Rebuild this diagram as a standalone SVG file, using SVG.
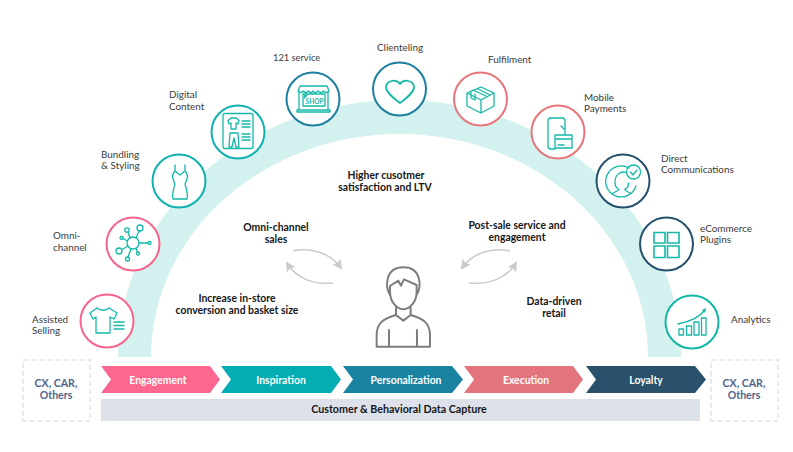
<svg xmlns="http://www.w3.org/2000/svg" width="793" height="452" viewBox="0 0 793 452">
<style>
text{font-family:"Lato","Open Sans","Liberation Sans",sans-serif}
.l{font-size:9.900px;fill:#3a3a3a}
.b{font-size:10.400px;font-weight:700;fill:#161616;text-anchor:middle}
.c{font-size:10.400px;font-weight:700;fill:#fff;text-anchor:middle}
.o{font-size:10.600px;font-weight:700;fill:#51658a;text-anchor:middle}
.r{fill:#fff;stroke-width:2}
.i{fill:none;stroke:#14b8a8;stroke-width:1.300;stroke-linejoin:round;stroke-linecap:round}
.a{fill:none;stroke:#c9cccc;stroke-width:1.500}
.p{fill:none;stroke:#7d7d7d;stroke-width:6;stroke-linejoin:round;stroke-linecap:round}
.d{fill:#fff;stroke:#dfe4ec;stroke-width:1.600;stroke-dasharray:5 3}
</style>
<defs>
<marker id="ah" viewBox="0 0 10 10" refX="8" refY="5" markerWidth="10" markerHeight="10" orient="auto" markerUnits="userSpaceOnUse"><path d="M0 0L10 5L0 10L2 5Z" fill="#c9cccc"/></marker>
</defs>
<rect width="793" height="452" fill="#fff"/>
<path id="band" d="M118 357A281.500 257 0 0 1 681 357H648A248.500 223 0 0 0 151 357Z" fill="#d3f1ee"/>
<g id="connectors">
<path class="a" d="M293 251C313 247 331 254 341 268" marker-end="url(#ah)"/>
<path class="a" d="M333 283C313 285 296 278 287 263" marker-end="url(#ah)"/>
<path class="a" d="M510 251C490 247 472 254 462 268" marker-end="url(#ah)"/>
<path class="a" d="M469 283C489 285 507 278 516 263" marker-end="url(#ah)"/>
</g>
<g id="assisted"><circle class="r" cx="107" cy="321" r="26.500" stroke="#f7648b"/>
<path class="i" d="M97 308L90 313L93 319L96 317V333H110V317L114 319L117 313L109 308C106 311 100 311 97 308Z"/><path class="i" d="M114 322H124M114 325.500H124M114 329H124"/>
<text class="l" x="32" y="323">Assisted</text><text class="l" x="32" y="334">Selling</text></g>
<g id="omni"><circle class="r" cx="133" cy="244" r="26.500" stroke="#f7648b"/>
<g class="i"><circle cx="133" cy="243" r="6"/><circle cx="140" cy="228" r="3"/><circle cx="127" cy="230" r="2.200"/><circle cx="121.500" cy="238" r="1.500"/><circle cx="119" cy="251" r="3"/><circle cx="127.500" cy="259" r="2"/><circle cx="138" cy="253.500" r="1.500"/><circle cx="149.500" cy="243" r="1.500"/><path d="M136 238L139 231M130 238L128 232M127.500 241L123 238.500M128 246L122 249.500M131 249L128 257M136 248L137.500 252M139 243H148"/></g>
<text class="l" x="53" y="239">Omni-</text><text class="l" x="53" y="251">channel</text></g>
<g id="bundling"><circle class="r" cx="179" cy="181" r="26.500" stroke="#0fb1ad"/>
<path class="i" d="M175 165V171C173 173 172 176 173 179L175 184C173 190 172 195 173 199H187C188 195 187 190 185 184L187 179C188 176 187 173 185 171V165M175 171L180 175L185 171"/>
<text class="l" x="101" y="158">Bundling</text><text class="l" x="101" y="169">&amp; Styling</text></g>
<g id="digital"><circle class="r" cx="238" cy="132" r="26.500" stroke="#0fb1ad"/>
<rect class="i" x="223" y="113.500" width="30" height="35" rx="2"/>
<path class="i" d="M231 118L228 120.500L229 124L231 123V129H236V123L238 124L239 120.500L236 118Z"/><path class="i" d="M242 121H250M242 124H250M242 127H250M242 134H250M242 137H250M242 140H250M230 133H238L239 147H236L234 138L232 147H229Z"/>
<text class="l" x="169" y="98">Digital</text><text class="l" x="169" y="110">Content</text></g>
<g id="service"><circle class="r" cx="313" cy="99" r="26.500" stroke="#1b7fa0"/>
<path class="i" d="M298 91L300 86H327L329 91C327 93 325 93 323.500 91C322 93 320 93 318 91C316 93 314 93 313 91C312 93 310 93 308.500 91C307 93 305 93 303.500 91C302 93 300 93 298 91ZM299 92V110H328V92M297 110H330V112H297ZM303 94H325V106H303Z"/>
<path d="M304 95H308L304 99Z" fill="#14b8a8"/>
<text x="314.500" y="103.500" font-size="6.500" font-weight="700" fill="#14b8a8" text-anchor="middle">SHOP</text>
<text class="l" x="273" y="61" font-size="9.300" style="font-size:9.300px">121 service</text></g>
<g id="clienteling"><circle class="r" cx="399.500" cy="89" r="26.500" stroke="#1b7fa0"/>
<path d="M400 103C392 97 386 92 386 87C386 81 396 78 400 84C404 78 414 81 414 87C414 92 408 97 400 103Z" fill="none" stroke="#14b8a8" stroke-width="1.800" stroke-linejoin="round"/>
<text class="l" x="377" y="51">Clienteling</text></g>
<g id="fulfilment"><circle class="r" cx="480.500" cy="99" r="26.500" stroke="#e7757b"/>
<path class="i" d="M467 93L481 87L494 93V106L481 113L467 106ZM467 93L481 100L494 93M481 100V113M473 90L486 96M477 88.500L489 94.500M471 91V98L475 100V94"/>
<text class="l" x="488" y="63">Fulfilment</text></g>
<g id="mobile"><circle class="r" cx="558" cy="132" r="26.500" stroke="#e7757b"/>
<path class="i" d="M565 134V121C565 119 564 118 562 118H551C549 118 548 119 548 121V146C548 148 549 149 551 149H555M561 126L564 129M555 135H572V148H555ZM555 139H572M558 145H564"/>
<text class="l" x="584" y="100.500">Mobile</text><text class="l" x="584" y="111.500">Payments</text></g>
<g id="direct"><circle class="r" cx="623" cy="181" r="26.500" stroke="#25506d"/>
<g class="i"><path d="M629 168A15.500 15.500 0 1 0 636 186"/><path d="M626.500 172.500C620 170.500 615 175 615 182C615 185 616 188 618.500 189V190L612.500 193.500M628.500 183C628.500 186 627 188.500 625 189V190L630.500 193.500"/><circle cx="633.500" cy="172" r="7"/><path d="M630.500 172L633 175L637 170"/></g>
<text class="l" x="661" y="161.500">Direct</text><text class="l" x="661" y="172.500">Communications</text></g>
<g id="ecommerce"><circle class="r" cx="666.500" cy="244" r="26.500" stroke="#25506d"/>
<path d="M654 232.500H665V243H654ZM667.500 232.500H679V243H667.500ZM654 246H665V257.500H654ZM667.500 246H679V257.500H667.500Z" fill="none" stroke="#14b8a8" stroke-width="1.600"/>
<text class="l" x="700" y="231.500">eCommerce</text><text class="l" x="700" y="242.500">Plugins</text></g>
<g id="analytics"><circle class="r" cx="692" cy="322" r="26.500" stroke="#10b8a4"/>
<path class="i" d="M679 329H683.500V335H679ZM686.500 326H691.500V335H686.500ZM694 322H699V335H694ZM701.500 318H706V335H701.500ZM678 324C688 322 699 318 705 310"/><path d="M706 308L705 313L702 310Z" fill="#14b8a8"/>
<text class="l" x="731" y="323">Analytics</text></g>
<g id="user" transform="translate(270 230) scale(.3333)"><path class="p" d="M360 195C345 170 345 112 400 112C455 112 455 170 440 195M360 168V185C360 215 380 238 400 238C420 238 440 215 440 185V165M360 168L385 152L393 167L402 148L440 165M378 232V255L400 272L422 255V232M378 255C340 265 320 280 320 315V350H480V315C480 280 460 265 422 255M357 300V350M441 300V350"/></g>
<g id="engagement"><path d="M101 366H210L220 379.500L210 393H101L111 379.500Z" fill="#fd668f"/><text class="c" x="158" y="383.500">Engagement</text></g>
<g id="inspiration"><path d="M221 366H331L341 379.500L331 393H221L231 379.500Z" fill="#04adb1"/><text class="c" x="281" y="383.500">Inspiration</text></g>
<g id="personalization"><path d="M343 366H452L463 379.500L452 393H343L353 379.500Z" fill="#1a83a2"/><text class="c" x="406" y="383.500">Personalization</text></g>
<g id="execution"><path d="M464 366H573L583 379.500L573 393H464L474 379.500Z" fill="#e4747c"/><text class="c" x="526" y="383.500">Execution</text></g>
<g id="loyalty"><path d="M586 366H695L706 379.500L695 393H586L596 379.500Z" fill="#2a516b"/><text class="c" x="646" y="383.500">Loyalty</text></g>
<g id="capture"><rect x="101" y="399" width="599" height="22" fill="#dde2ea"/><text class="b" x="399" y="412.500" style="font-size:10.700px">Customer &amp; Behavioral Data Capture</text></g>
<g id="others-left"><rect class="d" x="23" y="360" width="67" height="61"/><text class="o" x="56" y="387">CX, CAR,</text><text class="o" x="56" y="399">Others</text></g>
<g id="others-right"><rect class="d" x="711" y="360" width="67" height="61"/><text class="o" x="744" y="387">CX, CAR,</text><text class="o" x="744" y="399">Others</text></g>
<text class="b" x="386" y="179">Higher cusotmer</text><text class="b" x="385" y="191">satisfaction and LTV</text>
<text class="b" x="276" y="231">Omni-channel</text><text class="b" x="276" y="243">sales</text>
<text class="b" x="237" y="302">Increase in-store</text><text class="b" x="237" y="314">conversion and basket size</text>
<text class="b" x="517" y="229">Post-sale service and</text><text class="b" x="517" y="241">engagement</text>
<text class="b" x="554" y="305">Data-driven</text><text class="b" x="554" y="317">retail</text>
</svg>
